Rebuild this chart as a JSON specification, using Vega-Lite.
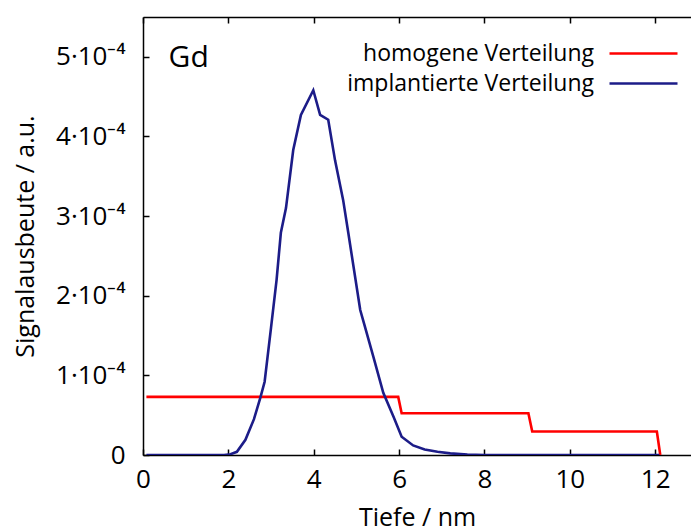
{
  "$schema": "https://vega.github.io/schema/vega-lite/v6.json",
  "width": 548,
  "height": 438,
  "autosize": {"type": "none"},
  "padding": {"left": 143, "top": 17, "right": 0, "bottom": 72},
  "background": "white",
  "config": {
    "font": "Open Sans",
    "view": {"stroke": null},
    "axis": {
      "grid": false,
      "domainColor": "black",
      "domainWidth": 1.5,
      "tickColor": "black",
      "tickWidth": 1.5,
      "tickSize": -6,
      "labelFont": "Open Sans",
      "labelFontSize": 26,
      "labelColor": "black",
      "titleFont": "Open Sans",
      "titleFontSize": 25,
      "titleFontWeight": "normal",
      "titleColor": "black"
    },
    "legend": {
      "labelFont": "Open Sans",
      "labelFontSize": 23,
      "labelColor": "black",
      "labelLimit": 400
    }
  },
  "data": {
    "values": [
      {"series": "homogene Verteilung", "x": 0.08, "y": 0.000073},
      {"series": "homogene Verteilung", "x": 5.98, "y": 0.000073},
      {"series": "homogene Verteilung", "x": 6.06, "y": 0.0000525},
      {"series": "homogene Verteilung", "x": 9.03, "y": 0.0000525},
      {"series": "homogene Verteilung", "x": 9.12, "y": 0.0000295},
      {"series": "homogene Verteilung", "x": 12.04, "y": 0.0000295},
      {"series": "homogene Verteilung", "x": 12.12, "y": 0},
      {"series": "implantierte Verteilung", "x": 0.08, "y": 0},
      {"series": "implantierte Verteilung", "x": 1.9, "y": 0},
      {"series": "implantierte Verteilung", "x": 2.05, "y": 0.000001},
      {"series": "implantierte Verteilung", "x": 2.2, "y": 0.000004},
      {"series": "implantierte Verteilung", "x": 2.4, "y": 0.000019},
      {"series": "implantierte Verteilung", "x": 2.6, "y": 0.000045},
      {"series": "implantierte Verteilung", "x": 2.75, "y": 0.000072},
      {"series": "implantierte Verteilung", "x": 2.85, "y": 0.000092},
      {"series": "implantierte Verteilung", "x": 3.0, "y": 0.00016},
      {"series": "implantierte Verteilung", "x": 3.13, "y": 0.00022},
      {"series": "implantierte Verteilung", "x": 3.23, "y": 0.000279},
      {"series": "implantierte Verteilung", "x": 3.35, "y": 0.00031},
      {"series": "implantierte Verteilung", "x": 3.52, "y": 0.000383},
      {"series": "implantierte Verteilung", "x": 3.7, "y": 0.000427},
      {"series": "implantierte Verteilung", "x": 3.99, "y": 0.000458},
      {"series": "implantierte Verteilung", "x": 4.15, "y": 0.000427},
      {"series": "implantierte Verteilung", "x": 4.34, "y": 0.000421},
      {"series": "implantierte Verteilung", "x": 4.5, "y": 0.00037},
      {"series": "implantierte Verteilung", "x": 4.69, "y": 0.00032},
      {"series": "implantierte Verteilung", "x": 4.81, "y": 0.000279},
      {"series": "implantierte Verteilung", "x": 5.09, "y": 0.000182},
      {"series": "implantierte Verteilung", "x": 5.18, "y": 0.000165},
      {"series": "implantierte Verteilung", "x": 5.4, "y": 0.000123},
      {"series": "implantierte Verteilung", "x": 5.63, "y": 0.000078},
      {"series": "implantierte Verteilung", "x": 5.87, "y": 0.000048},
      {"series": "implantierte Verteilung", "x": 6.06, "y": 0.000023},
      {"series": "implantierte Verteilung", "x": 6.33, "y": 0.000012},
      {"series": "implantierte Verteilung", "x": 6.6, "y": 0.000007},
      {"series": "implantierte Verteilung", "x": 6.9, "y": 0.000004},
      {"series": "implantierte Verteilung", "x": 7.2, "y": 0.000002},
      {"series": "implantierte Verteilung", "x": 7.6, "y": 0.0000005},
      {"series": "implantierte Verteilung", "x": 8.0, "y": 0},
      {"series": "implantierte Verteilung", "x": 12.1, "y": 0}
    ]
  },
  "layer": [
    {
      "mark": {"type": "line", "strokeWidth": 2.6, "clip": true},
      "encoding": {
        "x": {
          "field": "x", "type": "quantitative",
          "scale": {"domain": [0, 12.84], "nice": false, "zero": false},
          "axis": {"orient": "bottom", "values": [0, 2, 4, 6, 8, 10, 12], "title": "Tiefe / nm", "labelPadding": 17, "titlePadding": 13, "labelFlush": false}
        },
        "y": {
          "field": "y", "type": "quantitative",
          "scale": {"domain": [0, 0.00055], "nice": false},
          "axis": {
            "orient": "left",
            "values": [0, 0.0001, 0.0002, 0.0003, 0.0004, 0.0005],
            "labelExpr": "datum.value == 0 ? '0' : format(datum.value * 10000, '.0f') + '·10⁻⁴'",
            "title": "Signalausbeute / a.u.",
            "labelPadding": 24,
            "titlePadding": 17,
            "labelFlush": false
          }
        },
        "color": {
          "field": "series", "type": "nominal",
          "scale": {"domain": ["homogene Verteilung", "implantierte Verteilung"], "range": ["#ff0000", "#1c1c88"]},
          "legend": {
            "title": " ",
            "titleFontSize": 1,
            "titlePadding": 16,
            "orient": "top-right",
            "offset": 8,
            "padding": 0,
            "symbolType": "M-4,0H4",
            "symbolSize": 289,
            "symbolStrokeWidth": 2.6,
            "labelAlign": "right",
            "labelOffset": -61,
            "rowPadding": 6
          }
        },
        "order": {"field": "x", "type": "quantitative"}
      }
    },
    {
      "data": {"values": [{"label": "Gd"}]},
      "mark": {"type": "text", "fontSize": 30, "font": "Open Sans", "color": "black", "align": "left", "baseline": "middle"},
      "encoding": {
        "x": {"datum": 0.6, "type": "quantitative", "axis": {"orient": "top", "values": [0, 2, 4, 6, 8, 10, 12], "labels": false, "title": null}},
        "y": {"datum": 0.000498, "type": "quantitative"},
        "text": {"field": "label"}
      }
    }
  ],
  "resolve": {"axis": {"x": "independent"}}
}
